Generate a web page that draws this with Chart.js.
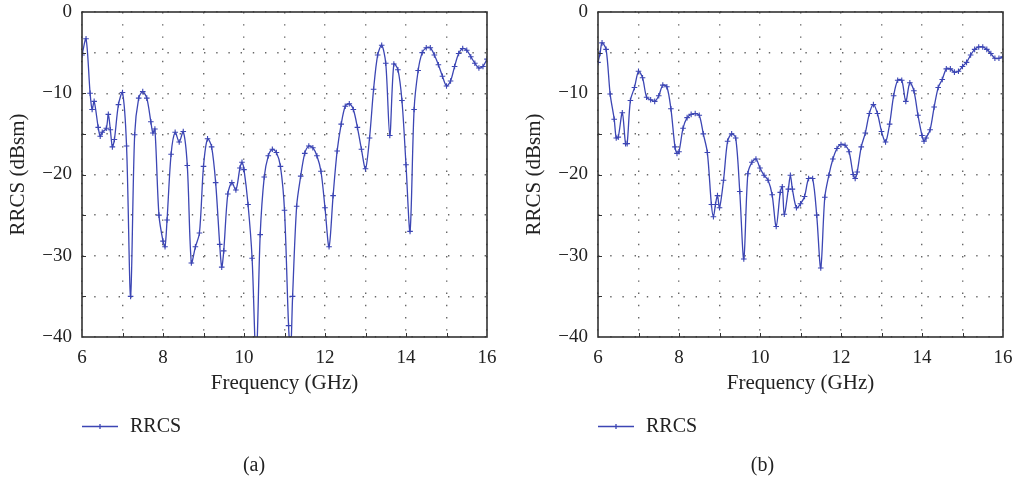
<!DOCTYPE html>
<html>
<head>
<meta charset="utf-8">
<script src="https://cdn.jsdelivr.net/npm/chart.js@4"></script>
<style>
  body { margin: 0; background: #fff; }
  #wrap { position: relative; width: 1017px; height: 481px; }
  canvas { position: absolute; top: 0; }
</style>
</head>
<body>
<div id="wrap">
  <canvas id="chartA" width="508" height="481" style="left:0px"></canvas>
  <canvas id="chartB" width="509" height="481" style="left:508px"></canvas>
</div>
<script>
// panel (a)
let freqA = [6.0, 6.1, 6.2, 6.25, 6.3, 6.4, 6.45, 6.5, 6.6, 6.65, 6.7, 6.75, 6.8, 6.9, 7.0,
  7.1, 7.2, 7.3, 7.4, 7.5, 7.6, 7.7, 7.75, 7.8, 7.9, 8.0, 8.05, 8.1, 8.2, 8.3, 8.4, 8.5,
  8.6, 8.7, 8.8, 8.9, 9.0, 9.1, 9.2, 9.3, 9.4, 9.45, 9.5, 9.6, 9.7, 9.8, 9.9, 9.95, 10.0,
  10.1, 10.2, 10.3, 10.4, 10.5, 10.6, 10.7, 10.8, 10.9, 11.0, 11.1, 11.15, 11.2, 11.3, 11.4,
  11.5, 11.6, 11.7, 11.8, 11.9, 12.0, 12.1, 12.2, 12.3, 12.4, 12.5, 12.6, 12.7, 12.8, 12.9,
  13.0, 13.1, 13.2, 13.3, 13.4, 13.5, 13.6, 13.7, 13.8, 13.9, 14.0, 14.1, 14.2, 14.3, 14.4,
  14.5, 14.6, 14.7, 14.8, 14.9, 15.0, 15.1, 15.2, 15.3, 15.4, 15.5, 15.6, 15.7, 15.8, 15.9, 16.0];
let rrcsA = [-5.3, -3.3, -10.0, -12.0, -11.0, -14.2, -15.3, -14.8, -14.3, -12.6, -14.5, -16.6, -15.7, -11.4, -9.9,
  -16.5, -35.0, -15.1, -10.6, -9.8, -10.6, -13.5, -14.9, -14.4, -25.0, -28.2, -28.9, -25.6, -17.5, -14.8, -16.0, -14.7,
  -18.9, -30.9, -28.9, -27.2, -19.0, -15.6, -16.6, -21.0, -28.6, -31.4, -29.4, -22.4, -21.0, -21.9, -19.2, -18.5, -19.4,
  -23.7, -30.3, -43.0, -27.4, -20.3, -17.7, -16.9, -17.3, -19.0, -24.4, -38.6, -42.0, -35.0, -23.9, -20.2,
  -17.4, -16.5, -16.7, -17.7, -19.6, -24.1, -28.9, -22.6, -17.1, -13.8, -11.6, -11.3, -12.0, -14.2, -16.9,
  -19.3, -15.5, -9.5, -5.3, -4.1, -6.3, -15.2, -6.4, -7.1, -10.9, -18.8, -27.0, -12.0, -7.2, -5.0,
  -4.4, -4.4, -5.3, -6.5, -7.9, -9.1, -8.5, -6.7, -5.1, -4.5, -4.7, -5.5, -6.3, -6.9, -6.7, -5.8];

// panel (b)
let freqB = [6.0, 6.05, 6.1, 6.2, 6.3, 6.4, 6.45, 6.5, 6.6, 6.68, 6.72, 6.8, 6.9, 7.0, 7.1,
  7.2, 7.3, 7.4, 7.5, 7.6, 7.7, 7.8, 7.9, 7.95, 8.0, 8.1, 8.2, 8.3, 8.4, 8.5, 8.6, 8.7,
  8.8, 8.85, 8.9, 8.95, 9.0, 9.1, 9.2, 9.3, 9.4, 9.5, 9.6, 9.7, 9.8, 9.9, 10.0, 10.1, 10.2,
  10.3, 10.4, 10.5, 10.55, 10.6, 10.7, 10.75, 10.8, 10.9, 11.0, 11.1, 11.2, 11.3, 11.4, 11.5,
  11.6, 11.7, 11.8, 11.9, 12.0, 12.1, 12.2, 12.3, 12.35, 12.4, 12.5, 12.6, 12.7, 12.8, 12.9,
  13.0, 13.1, 13.2, 13.3, 13.4, 13.5, 13.6, 13.7, 13.8, 13.9, 14.0, 14.05, 14.1, 14.2, 14.3,
  14.4, 14.5, 14.6, 14.7, 14.8, 14.9, 15.0, 15.1, 15.2, 15.3, 15.4, 15.5, 15.6, 15.7, 15.8, 15.9, 16.0];
let rrcsB = [-6.2, -5.1, -3.8, -4.6, -10.1, -13.2, -15.5, -15.4, -12.4, -16.2, -16.2, -10.9, -9.3, -7.3, -8.1,
  -10.5, -10.8, -11.0, -10.3, -9.0, -9.2, -11.9, -16.6, -17.4, -17.2, -14.3, -13.0, -12.6, -12.5, -12.7, -15.0, -17.3,
  -23.7, -25.2, -23.7, -22.6, -24.1, -20.7, -15.9, -15.0, -15.5, -22.1, -30.4, -19.9, -18.5, -18.1, -19.2, -20.1, -20.7,
  -22.5, -26.4, -22.2, -21.5, -24.9, -21.8, -20.1, -21.8, -24.1, -23.6, -22.7, -20.5, -20.5, -25.0, -31.5,
  -22.8, -20.1, -18.1, -16.8, -16.3, -16.4, -17.2, -20.0, -20.5, -19.7, -16.6, -14.9, -12.5, -11.4, -12.5,
  -14.7, -16.0, -13.8, -10.3, -8.4, -8.4, -11.0, -8.7, -9.7, -12.7, -15.2, -15.9, -15.5, -14.5, -11.7,
  -9.3, -8.3, -7.0, -7.0, -7.4, -7.3, -6.7, -6.2, -5.3, -4.6, -4.3, -4.3, -4.6, -5.1, -5.7, -5.7, -5.5];

const serif = "'Liberation Serif', 'Times New Roman', serif";
const lineColor = '#3c46b4';
Chart.defaults.font.family = serif;
Chart.defaults.color = '#222';

function fmtMinus(v) {
  return v < 0 ? '\u2212' + Math.abs(v) : String(v);
}

// box, inner ticks, legend and caption
function framePlugin(caption) {
  return {
    id: 'frame',
    afterDraw(chart) {
      const ctx = chart.ctx;
      const a = chart.chartArea;
      const xs = chart.scales.x, ys = chart.scales.y;
      ctx.save();
      ctx.strokeStyle = '#333';
      ctx.lineWidth = 1.6;
      ctx.strokeRect(a.left, a.top, a.right - a.left, a.bottom - a.top);
      ctx.lineWidth = 1;
      ctx.beginPath();
      for (let v = 7; v < 16; v++) {
        const px = Math.round(xs.getPixelForValue(v)) + 0.5;
        ctx.moveTo(px, a.bottom); ctx.lineTo(px, a.bottom - 4);
      }
      for (let v = -35; v < 0; v += 5) {
        const py = Math.round(ys.getPixelForValue(v)) + 0.5;
        ctx.moveTo(a.left, py); ctx.lineTo(a.left + 4, py);
      }
      ctx.stroke();

      // legend
      const ly = 426.5;
      const lx = a.left;
      ctx.strokeStyle = lineColor;
      ctx.lineWidth = 1.3;
      ctx.beginPath();
      ctx.moveTo(lx, ly); ctx.lineTo(lx + 36, ly);
      ctx.moveTo(lx + 18, ly - 2.5); ctx.lineTo(lx + 18, ly + 2.5);
      ctx.stroke();
      ctx.fillStyle = '#222';
      ctx.font = '20px ' + serif;
      ctx.textBaseline = 'middle';
      ctx.textAlign = 'left';
      ctx.fillText('RRCS', lx + 48, ly);

      // caption
      ctx.textAlign = 'center';
      ctx.fillText(caption, chart.width / 2, 466);
      ctx.restore();
    }
  };
}

function makeChart(id, freq, rrcs, caption, padLeft, yWidth, padRight) {
  const pts = freq.map((f, i) => ({ x: f, y: rrcs[i] }));
  return new Chart(document.getElementById(id), {
    type: 'line',
    data: {
      datasets: [{
        label: 'RRCS',
        data: pts,
        borderColor: lineColor,
        backgroundColor: lineColor,
        borderWidth: 1.3,
        pointStyle: 'cross',
        pointRadius: 2.8,
        pointBorderWidth: 1.1,
        pointBorderColor: lineColor,
        tension: 0.3,
        fill: false
      }]
    },
    options: {
      responsive: false,
      animation: false,
      devicePixelRatio: 1,
      layout: { padding: { left: padLeft, top: 12, right: padRight, bottom: 85 } },
      plugins: { legend: { display: false }, tooltip: { enabled: false } },
      scales: {
        x: {
          type: 'linear',
          min: 6, max: 16,
          afterFit(scale) { scale.height = 59; scale.paddingLeft = 0; scale.paddingRight = 0; },
          ticks: {
            stepSize: 1, autoSkip: false, maxRotation: 0, padding: 10,
            font: { size: 19 }, color: '#222',
            callback: v => (v % 2 === 0 ? String(v) : '')
          },
          grid: { color: '#666', lineWidth: 1.4, drawTicks: false },
          border: { display: false, dash: [1.4, 10.8] },
          title: { display: true, text: 'Frequency (GHz)', font: { size: 21 }, color: '#222', padding: 0 }
        },
        y: {
          min: -40, max: 0,
          afterFit(scale) { scale.width = yWidth; scale.paddingTop = 0; scale.paddingBottom = 0; },
          ticks: {
            stepSize: 5, autoSkip: false, padding: 10,
            font: { size: 19 }, color: '#222',
            callback: v => (v % 10 === 0 ? fmtMinus(v) : '')
          },
          grid: { color: '#666', lineWidth: 1.4, drawTicks: false },
          border: { display: false, dash: [1.4, 10.8] },
          title: { display: true, text: 'RRCS (dBsm)', font: { size: 21 }, color: '#222', padding: 0 }
        }
      }
    },
    plugins: [framePlugin(caption)]
  });
}

makeChart('chartA', freqA, rrcsA, '(a)', 6, 76, 21);
makeChart('chartB', freqB, rrcsB, '(b)', 14, 76, 14);
</script>
</body>
</html>
